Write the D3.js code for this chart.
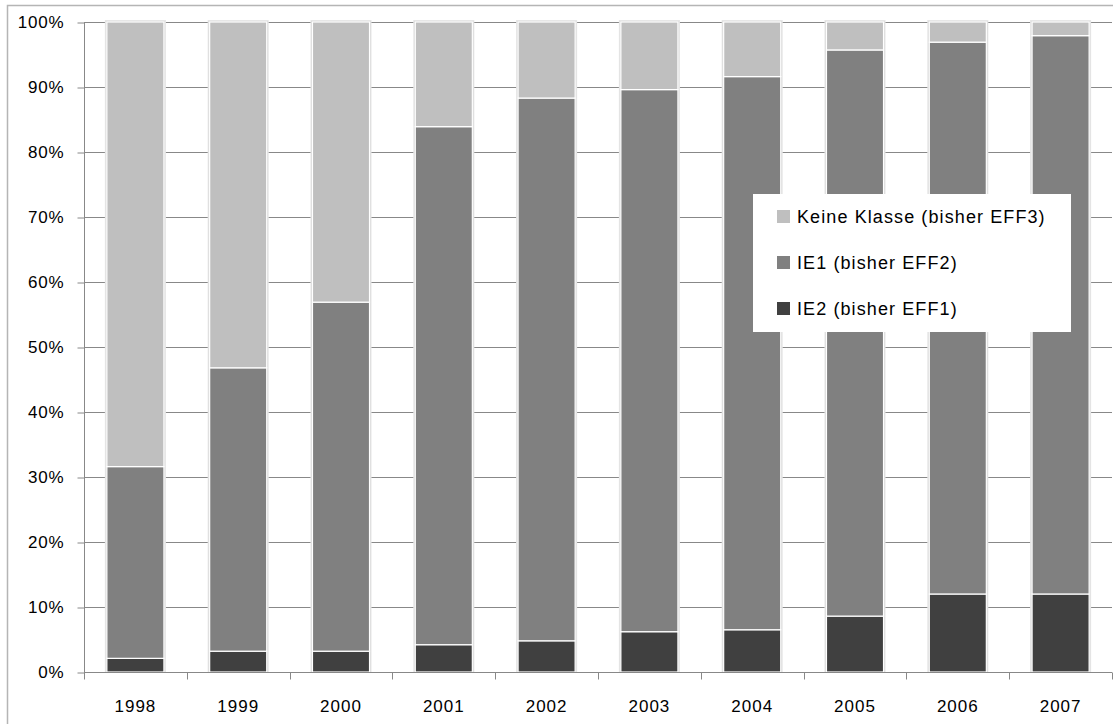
<!DOCTYPE html>
<html>
<head>
<meta charset="utf-8">
<script src="https://cdn.jsdelivr.net/npm/d3@7"></script>
<style>
  html, body { margin: 0; padding: 0; background: #fff; }
  svg { display: block; }
  text { font-family: "Liberation Sans", Arial, sans-serif; fill: #000; }
</style>
</head>
<body>
<svg id="chart" width="1113" height="724"></svg>
<script>
const years = ["1998","1999","2000","2001","2002","2003","2004","2005","2006","2007"];
const ie2 = [2.1, 3.2, 3.2, 4.2, 4.8, 6.2, 6.5, 8.6, 12.0, 12.0];
const ie1 = [29.5, 43.6, 53.7, 79.7, 83.5, 83.4, 85.1, 87.1, 84.9, 85.9];
const keine = [68.4, 53.2, 43.1, 16.1, 11.7, 10.4, 8.4, 4.3, 3.1, 2.1];
const seriesNames = ["IE2 (bisher EFF1)", "IE1 (bisher EFF2)", "Keine Klasse (bisher EFF3)"];
const seriesColors = ["#404040", "#808080", "#bfbfbf"];
const yTicks = [0, 10, 20, 30, 40, 50, 60, 70, 80, 90, 100];

(function () {
const svg = d3.select("#chart");
const pLeft = 84, pRight = 1112, pTop = 22, pBottom = 672;

// outer chart border
svg.append("path")
  .attr("d", `M7.5,730 L7.5,5.5 L1120,5.5`)
  .attr("fill", "none").attr("stroke", "#b5b5b5").attr("stroke-width", 1.5);

const x = d3.scaleBand().domain(years).range([pLeft, pRight]).paddingInner(0.445).paddingOuter(0.2225);
const y = d3.scaleLinear().domain([0, 100]).range([pBottom, pTop]);

// gridlines
svg.append("g").selectAll("line").data(yTicks.filter(d => d > 0)).join("line")
  .attr("x1", pLeft).attr("x2", pRight)
  .attr("y1", d => Math.round(y(d)) + 0.5).attr("y2", d => Math.round(y(d)) + 0.5)
  .attr("stroke", "#888").attr("stroke-width", 1);

// y axis
const yAxis = d3.axisLeft(y).tickValues(yTicks).tickFormat(d => d + "%").tickSize(7).tickPadding(13);
const gy = svg.append("g").attr("transform", `translate(${pLeft + 0.5},0.5)`).call(yAxis);
gy.select(".domain").attr("stroke", "#888").attr("d", `M0,${pTop}V${pBottom}`);
gy.selectAll(".tick line").attr("stroke", "#888");
gy.selectAll(".tick text").style("font-size", "17px").style("letter-spacing", "0.8px")
  .attr("font-family", "Liberation Sans, Arial, sans-serif").attr("fill", "#000");

// stacked data
const rows = years.map((yr, i) => ({ year: yr, s0: ie2[i], s1: ie1[i], s2: keine[i] }));
const stacked = d3.stack().keys(["s0", "s1", "s2"])(rows);

// bar shadows
svg.append("g").selectAll("rect").data(rows).join("rect")
  .attr("x", d => x(d.year) - 2).attr("width", x.bandwidth() + 4)
  .attr("y", y(100) - 2).attr("height", y(0) - y(100) + 2)
  .attr("fill", "#e6e6e6");
svg.append("g").selectAll("rect").data(rows).join("rect")
  .attr("x", d => x(d.year) - 1).attr("width", x.bandwidth() + 2)
  .attr("y", y(100) - 1).attr("height", y(0) - y(100) + 1)
  .attr("fill", "#d4d4d4");

const gBars = svg.append("g");
stacked.forEach((layer, si) => {
  gBars.append("g").selectAll("rect").data(layer).join("rect")
    .attr("x", d => x(d.data.year))
    .attr("width", x.bandwidth())
    .attr("y", d => y(d[1]))
    .attr("height", d => y(d[0]) - y(d[1]))
    .attr("fill", seriesColors[si])
    .attr("stroke", "#fff").attr("stroke-width", 1.2);
});

// x axis
const xAxis = d3.axisBottom(x).tickSize(0).tickPadding(0);
const gx = svg.append("g").attr("transform", `translate(0,${pBottom + 0.5})`).call(xAxis);
gx.select(".domain").attr("stroke", "#888").attr("d", `M${pLeft},0H${pRight}`);
gx.selectAll(".tick text").attr("dy", "0").attr("y", 39)
  .style("font-size", "17px").style("letter-spacing", "1px").attr("fill", "#000");
// category boundary ticks
const bounds = years.map((yr, i) => pLeft + i * x.step());
bounds.push(pRight);
gx.append("g").selectAll("line").data(bounds).join("line")
  .attr("x1", d => Math.round(d) + 0.5).attr("x2", d => Math.round(d) + 0.5)
  .attr("y1", 0).attr("y2", 7).attr("stroke", "#888");

// legend
const lg = svg.append("g");
lg.append("rect").attr("x", 753).attr("y", 194).attr("width", 318).attr("height", 138).attr("fill", "#fff");
const legendOrder = [2, 1, 0];
const legendY = d3.scalePoint().domain(legendOrder).range([216.5, 308.5]);
legendOrder.forEach(si => {
  lg.append("rect").attr("x", 777).attr("y", legendY(si) - 6.5).attr("width", 13).attr("height", 13)
    .attr("fill", seriesColors[si]);
  lg.append("text").attr("x", 797).attr("y", legendY(si)).attr("dy", "0.36em")
    .style("font-size", "18px").style("letter-spacing", "1.1px").text(seriesNames[si]);
});
})();
</script>
</body>
</html>
